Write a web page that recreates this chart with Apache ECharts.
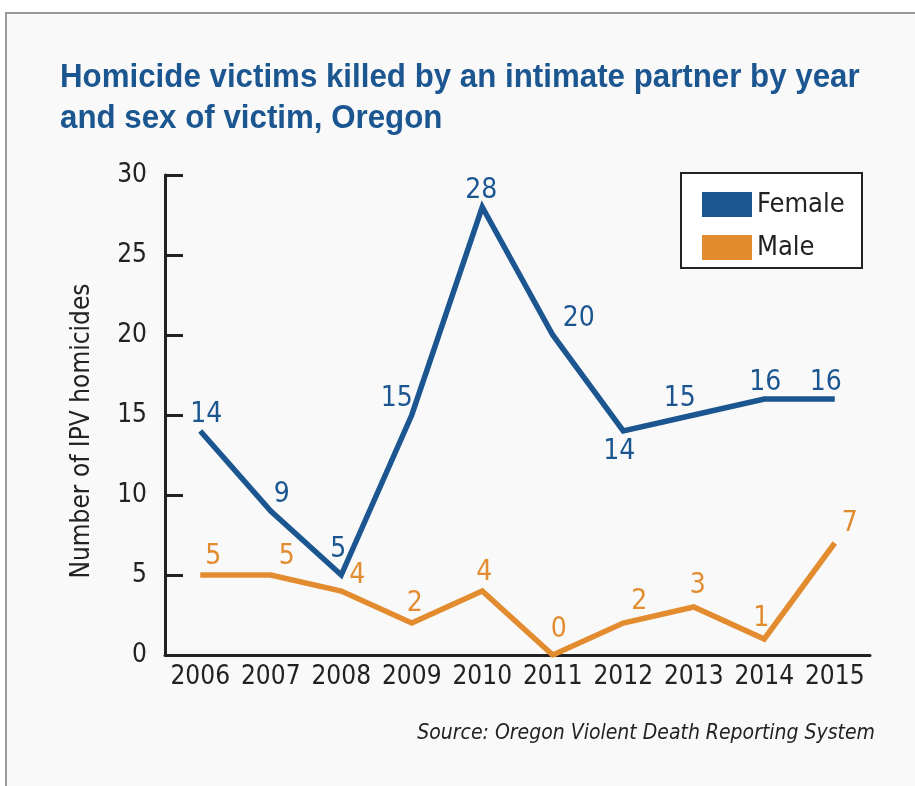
<!DOCTYPE html>
<html>
<head>
    <meta http-equiv="Content-Type" content="text/html; charset=utf-8"/>
    <title>IPV homicides</title>
    <style>
        html, body { margin: 0; padding: 0; background: #fff; }
        #main { width: 915px; height: 786px; }
    </style>
    <script src="https://cdn.jsdelivr.net/npm/echarts@6/dist/echarts.min.js"></script>
</head>
<body>
<div id="main"></div>
<script type="text/javascript">
    var years = ['2006', '2007', '2008', '2009', '2010', '2011', '2012', '2013', '2014', '2015'];
    var female = [14, 9, 5, 15, 28, 20, 14, 15, 16, 16];
    var male = [5, 5, 4, 2, 4, 0, 2, 3, 1, 7];
    var yTicks = [0, 5, 10, 15, 20, 25, 30];

    // label nudges so the numbers sit like in the printed chart
    var femaleLabelOffset = [[6, 2], [11, 2], [-3, -7], [-15, 2], [-1, 2], [26, 2], [-4, 3], [-14, 2], [1, 2], [-9, 2]];
    var femaleLabelPos = ['top', 'top', 'top', 'top', 'top', 'top', 'bottom', 'top', 'top', 'top'];
    var maleLabelOffset = [[13, 0], [16, 0], [16, 3], [3, -1], [2, 0], [6, -7], [16, -3], [4, -3], [-3, -2], [15, -1]];

    var blue = '#1b5691';
    var orange = '#e38c2f';
    var font = '"DejaVu Sans Condensed", "Liberation Sans", sans-serif';

    function build(values, offsets, positions) {
        var out = [];
        for (var i = 0; i < values.length; i++) {
            out.push({
                value: values[i],
                label: {
                    position: positions ? positions[i] : 'top',
                    offset: offsets[i]
                }
            });
        }
        return out;
    }

    var myChart = echarts.init(document.getElementById('main'));
    var option = {
        backgroundColor: '#ffffff',
        animation: false,
        graphic: [
            {
                type: 'rect',
                z: -10,
                shape: { x: 6, y: 13, width: 930, height: 800 },
                style: { fill: '#f9f9f9', stroke: '#9a9a9a', lineWidth: 2 }
            },
            {
                // title, squeezed horizontally to look like a condensed face
                type: 'text',
                x: 60,
                y: 57,
                scaleX: 0.92,
                style: {
                    text: 'Homicide victims killed by an intimate partner by year\nand sex of victim, Oregon',
                    fill: blue,
                    font: 'bold 34px "Liberation Sans", Arial, sans-serif',
                    lineHeight: 41
                }
            },
            {
                type: 'text',
                x: 82,
                y: 431,
                rotation: Math.PI / 2,
                style: {
                    text: 'Number of IPV homicides',
                    fill: '#222',
                    font: '26px ' + font,
                    textAlign: 'center',
                    textVerticalAlign: 'middle'
                }
            },
            {
                type: 'text',
                right: 40,
                top: 723,
                style: {
                    text: 'Source: Oregon Violent Death Reporting System',
                    fill: '#222',
                    font: 'italic 21px ' + font
                }
            },
            {
                type: 'rect',
                shape: { x: 681, y: 173, width: 181, height: 95 },
                style: { fill: '#ffffff', stroke: '#222', lineWidth: 2 }
            }
        ],
        legend: {
            data: ['Female', 'Male'],
            orient: 'vertical',
            left: 697,
            top: 186,
            itemWidth: 50,
            itemHeight: 25,
            itemGap: 16,
            icon: 'rect',
            textStyle: { color: '#222', fontSize: 27, fontFamily: font },
            z: 10
        },
        grid: {
            left: 165,
            right: 45,
            top: 175,
            bottom: 131
        },
        xAxis: {
            type: 'category',
            data: years,
            boundaryGap: true,
            axisLine: { lineStyle: { color: '#222', width: 3 } },
            axisTick: { inside: true, length: 13, lineStyle: { color: '#222', width: 3 } },
            axisLabel: { color: '#222', fontSize: 26, fontFamily: font, margin: 9, interval: 0 },
            splitLine: { show: false }
        },
        yAxis: {
            type: 'value',
            min: yTicks[0],
            max: yTicks[yTicks.length - 1],
            interval: 5,
            axisLine: { show: true, lineStyle: { color: '#222', width: 3 } },
            axisTick: { show: true, inside: true, length: 18, lineStyle: { color: '#222', width: 3 } },
            axisLabel: { color: '#222', fontSize: 26, fontFamily: font, margin: 18 },
            splitLine: { show: false }
        },
        series: [
            {
                name: 'Female',
                type: 'line',
                data: build(female, femaleLabelOffset, femaleLabelPos),
                symbol: 'circle',
                symbolSize: 0,
                color: blue,
                lineStyle: { color: blue, width: 5.5, join: 'miter' },
                label: { show: true, color: blue, fontSize: 28, fontFamily: font, distance: 4 }
            },
            {
                name: 'Male',
                type: 'line',
                data: build(male, maleLabelOffset, null),
                symbol: 'circle',
                symbolSize: 0,
                color: orange,
                lineStyle: { color: orange, width: 5.5, join: 'miter' },
                label: { show: true, color: orange, fontSize: 28, fontFamily: font, distance: 4 }
            }
        ]
    };
    myChart.setOption(option);
</script>
</body>
</html>
